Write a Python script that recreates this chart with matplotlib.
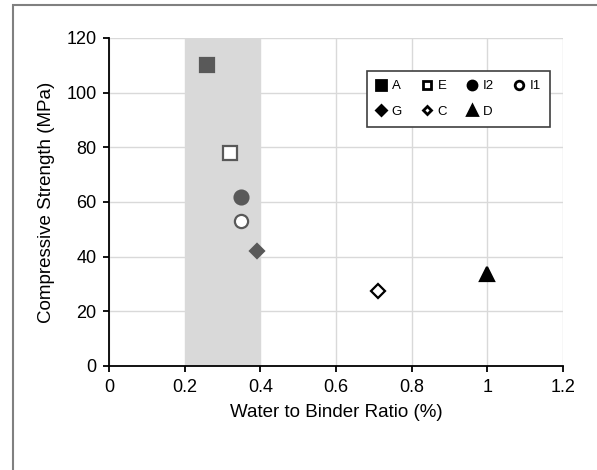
import matplotlib.pyplot as plt
from matplotlib.patches import Rectangle
import numpy as np

plt.rcParams['font.family'] = ['Liberation Sans', 'DejaVu Sans']

labels = ['A', 'E', 'I2', 'I1', 'G', 'C', 'D']
wb_ratio = [0.26, 0.32, 0.35, 0.35, 0.39, 0.71, 1.0]
strength = [110, 78, 62, 53, 42, 27.5, 33.5]
markers = ['s', 's', 'o', 'o', 'D', 'D', '^']
filled = [True, False, True, False, True, False, True]
colors = ['#595959', '#595959', '#595959', '#595959', '#595959', 'black', 'black']
sizes = [10, 9.5, 10, 9.5, 7.5, 7, 10]

# legend is filled column by column -> rows: A E I2 I1 / G C D
legend_order = ['A', 'G', 'E', 'C', 'I2', 'D', 'I1']

fig = plt.figure(figsize=(5.97, 4.70), dpi=100)
ax = fig.add_axes([109 / 597, 1 - 366 / 470, 454 / 597, 328 / 470])

# shaded range
ax.axvspan(0.2, 0.4, color='#d9d9d9', zorder=0, lw=0)

handles = {}
for lab, x, y, m, f, c, s in zip(labels, wb_ratio, strength, markers, filled, colors, sizes):
    ax.plot([x], [y], linestyle='none', marker=m, ms=s,
            mfc=c if f else 'white', mec=c, mew=1.6, zorder=3)
    # legend handles in black
    handles[lab] = ax.plot([], [], linestyle='none', marker=m, ms=s * 0.65,
                           mfc='black' if f else 'white', mec='black', mew=2)[0]

ax.set_xlim(0, 1.2)
ax.set_ylim(0, 120)
ax.set_xticks(np.arange(0, 1.21, 0.2))
ax.set_xticklabels(['0', '0.2', '0.4', '0.6', '0.8', '1', '1.2'])
ax.set_yticks(np.arange(0, 121, 20))
ax.grid(True, color='#d9d9d9', lw=1)
ax.set_axisbelow(True)
for sp in ['top', 'right']:
    ax.spines[sp].set_visible(False)
for sp in ['left', 'bottom']:
    ax.spines[sp].set_linewidth(1.3)
ax.tick_params(direction='out', length=4, width=1.3, labelsize=13, pad=5)

ax.set_xlabel('Water to Binder Ratio (%)', fontsize=13.5, labelpad=6)
ax.set_ylabel('Compressive Strength (MPa)', fontsize=13.5, labelpad=8)

leg = ax.legend([handles[l] for l in legend_order], legend_order, ncol=4,
                loc='upper right', bbox_to_anchor=(1 - 13 / 454, 1 - 33 / 328),
                fontsize=9.5, frameon=True, fancybox=False, framealpha=1,
                edgecolor='#404040', handlelength=0.8, handletextpad=0.4,
                columnspacing=1.5, borderpad=0.7, labelspacing=1.0,
                borderaxespad=0)
leg.get_frame().set_linewidth(1.2)

# outer chart border
fig.patches.append(Rectangle((13 / 597, -0.1), 1.2, 1.1 - 5 / 470,
                             transform=fig.transFigure, fill=False,
                             edgecolor='#808080', lw=1.5))

fig.savefig('out.png', dpi=100)
